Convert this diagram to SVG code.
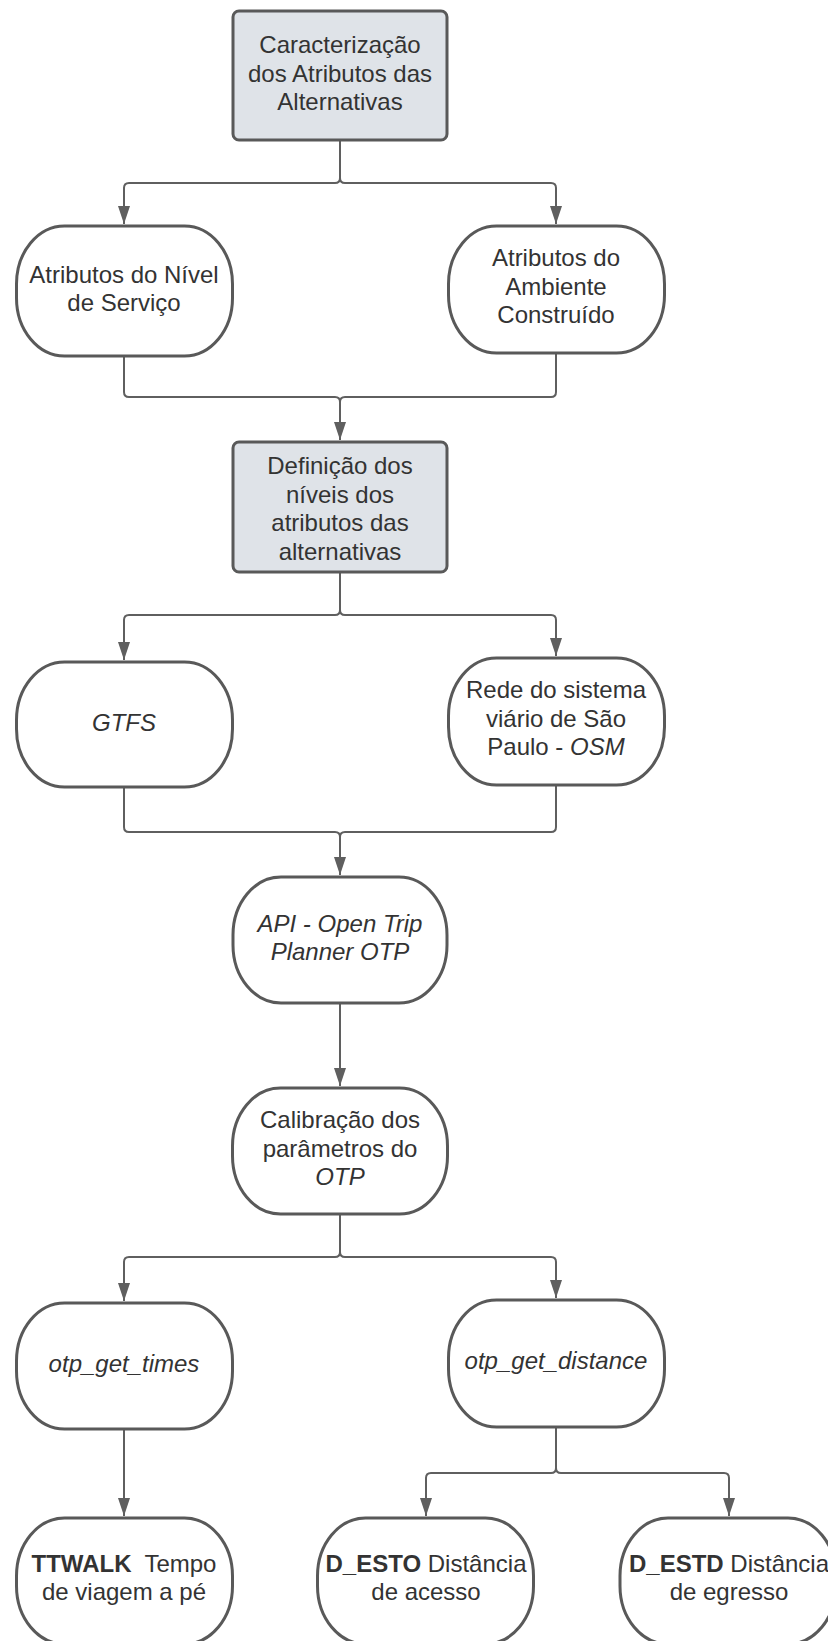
<svg xmlns="http://www.w3.org/2000/svg" width="828" height="1641" viewBox="0 0 828 1641">
<style>
.box{fill:#dfe3e8;stroke:#595959;stroke-width:3}
.term{fill:#ffffff;stroke:#595959;stroke-width:3}
.conn{fill:none;stroke:#5f5f5f;stroke-width:2}
text{font-family:"Liberation Sans",Arial,sans-serif;font-size:24px;fill:#333333;text-anchor:middle}
.i{font-style:italic}
.b{font-weight:bold}
</style>
<defs>
<marker id="arr" viewBox="0 0 18 12" refX="18" refY="6" markerWidth="18" markerHeight="12" markerUnits="userSpaceOnUse" orient="auto">
<path d="M0 0 L18 6 L0 12 Z" fill="#5f5f5f"/>
</marker>
</defs>
<rect width="828" height="1641" fill="#ffffff"/>
<g id="connectors">
<path class="conn" marker-end="url(#arr)" d="M340 140 V178 Q340 183 335 183 H129 Q124 183 124 188 V224"/>
<path class="conn" marker-end="url(#arr)" d="M340 178 Q340 183 345 183 H551 Q556 183 556 188 V224"/>
<path class="conn" marker-end="url(#arr)" d="M124 357 V392 Q124 397 129 397 H335 Q340 397 340 402 V440"/>
<path class="conn" d="M556 353 V392 Q556 397 551 397 H345 Q340 397 340 402"/>
<path class="conn" marker-end="url(#arr)" d="M340 572 V610 Q340 615 335 615 H129 Q124 615 124 620 V660"/>
<path class="conn" marker-end="url(#arr)" d="M340 610 Q340 615 345 615 H551 Q556 615 556 620 V656"/>
<path class="conn" marker-end="url(#arr)" d="M124 787 V827 Q124 832 129 832 H335 Q340 832 340 837 V875"/>
<path class="conn" d="M556 785 V827 Q556 832 551 832 H345 Q340 832 340 837"/>
<path class="conn" marker-end="url(#arr)" d="M340 1003 V1086"/>
<path class="conn" marker-end="url(#arr)" d="M340 1214 V1252 Q340 1257 335 1257 H129 Q124 1257 124 1262 V1301"/>
<path class="conn" marker-end="url(#arr)" d="M340 1252 Q340 1257 345 1257 H551 Q556 1257 556 1262 V1298"/>
<path class="conn" marker-end="url(#arr)" d="M124 1429 V1516"/>
<path class="conn" marker-end="url(#arr)" d="M556 1427 V1468 Q556 1473 551 1473 H431 Q426 1473 426 1478 V1516"/>
<path class="conn" marker-end="url(#arr)" d="M556 1468 Q556 1473 561 1473 H724 Q729 1473 729 1478 V1516"/>
</g>
<g id="n1">
<rect class="box" x="233" y="11" width="214" height="129" rx="6"/>
<text x="340" y="53">Caracterização</text>
<text x="340" y="82">dos Atributos das</text>
<text x="340" y="110">Alternativas</text>
</g>
<g id="n2">
<rect class="term" x="16.5" y="226" width="216" height="130" rx="48" ry="58"/>
<text x="124" y="283">Atributos do Nível</text>
<text x="124" y="311">de Serviço</text>
</g>
<g id="n3">
<rect class="term" x="448.5" y="226" width="216" height="127" rx="48" ry="58"/>
<text x="556" y="266">Atributos do</text>
<text x="556" y="295">Ambiente</text>
<text x="556" y="323">Construído</text>
</g>
<g id="n4">
<rect class="box" x="233" y="442" width="214" height="130" rx="6"/>
<text x="340" y="474">Definição dos</text>
<text x="340" y="503">níveis dos</text>
<text x="340" y="531">atributos das</text>
<text x="340" y="560">alternativas</text>
</g>
<g id="n5">
<rect class="term" x="16.5" y="662" width="216" height="125" rx="48" ry="58"/>
<text class="i" x="124" y="731">GTFS</text>
</g>
<g id="n6">
<rect class="term" x="448.5" y="658" width="216" height="127" rx="48" ry="58"/>
<text x="556" y="698">Rede do sistema</text>
<text x="556" y="727">viário de São</text>
<text x="556" y="755">Paulo - <tspan class="i">OSM</tspan></text>
</g>
<g id="n7">
<rect class="term" x="233" y="877" width="214" height="126" rx="48" ry="58"/>
<text class="i" x="340" y="932">API - Open Trip</text>
<text class="i" x="340" y="960">Planner OTP</text>
</g>
<g id="n8">
<rect class="term" x="232.5" y="1088" width="215" height="126" rx="48" ry="58"/>
<text x="340" y="1128">Calibração dos</text>
<text x="340" y="1157">parâmetros do</text>
<text class="i" x="340" y="1185">OTP</text>
</g>
<g id="n9">
<rect class="term" x="16.5" y="1303" width="216" height="126" rx="48" ry="58"/>
<text class="i" x="124" y="1372">otp_get_times</text>
</g>
<g id="n10">
<rect class="term" x="448.5" y="1300" width="216" height="127" rx="48" ry="58"/>
<text class="i" x="556" y="1369">otp_get_distance</text>
</g>
<g id="n11">
<rect class="term" x="16.5" y="1518" width="216" height="126" rx="48" ry="58"/>
<text x="124" y="1572" xml:space="preserve"><tspan class="b">TTWALK</tspan>  Tempo</text>
<text x="124" y="1600">de viagem a pé</text>
</g>
<g id="n12">
<rect class="term" x="317.5" y="1518" width="216" height="126" rx="48" ry="58"/>
<text x="426" y="1572"><tspan class="b">D_ESTO</tspan> Distância</text>
<text x="426" y="1600">de acesso</text>
</g>
<g id="n13">
<rect class="term" x="620" y="1518" width="216" height="126" rx="48" ry="58"/>
<text x="729" y="1572"><tspan class="b">D_ESTD</tspan> Distância</text>
<text x="729" y="1600">de egresso</text>
</g>
</svg>
